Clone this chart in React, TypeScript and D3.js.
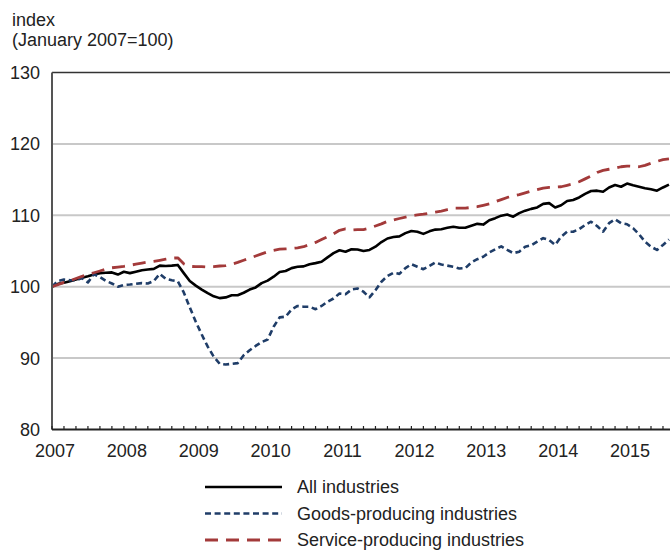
import React from 'react';
import * as d3 from 'd3';

// monthly index values, Jan 2007 .. Aug 2015 (January 2007 = 100)
const allIndustries = [
  100.0, 100.4, 100.55, 100.75, 101.0, 101.25, 101.45, 101.7, 101.9, 101.95, 102.0, 101.7,
  102.1, 101.9, 102.1, 102.3, 102.4, 102.5, 102.95, 102.9, 102.95, 103.05, 101.9, 100.8,
  100.15, 99.6, 99.1, 98.65, 98.4, 98.5, 98.8, 98.8, 99.15, 99.6, 99.9, 100.5,
  100.85, 101.4, 102.05, 102.2, 102.6, 102.8, 102.85, 103.15, 103.3, 103.5, 104.1, 104.7,
  105.1, 104.9, 105.25, 105.2, 105.0, 105.15, 105.6, 106.25, 106.75, 106.95, 107.05, 107.5,
  107.8, 107.7, 107.4, 107.75, 108.0, 108.05, 108.25, 108.4, 108.25, 108.25, 108.55, 108.8,
  108.7, 109.3, 109.6, 109.95, 110.1, 109.8, 110.3, 110.65, 110.9, 111.1, 111.6, 111.7,
  111.1, 111.4, 112.0, 112.15, 112.5, 113.0, 113.4, 113.45, 113.3, 113.9, 114.25, 114.0,
  114.45, 114.2, 114.0, 113.8, 113.65, 113.45, 113.9, 114.3,
];

const goodsProducing = [
  100.0, 100.8, 101.0, 100.9, 100.9, 101.2, 100.6, 101.75, 101.35, 100.8, 100.45, 100.0,
  100.25, 100.3, 100.4, 100.5, 100.45, 100.8, 101.8, 101.1, 100.9, 100.75, 99.2, 97.1,
  95.1, 93.3, 91.6, 90.2, 89.2, 89.1, 89.2, 89.3, 90.4, 91.1, 91.7, 92.25,
  92.6, 94.4, 95.7, 95.8, 96.8, 97.3, 97.2, 97.2, 96.85, 97.3, 97.9, 98.35,
  99.05, 98.95, 99.6, 99.75, 99.3, 98.5, 99.5, 100.7, 101.5, 101.95, 101.8, 102.6,
  103.15, 102.8, 102.45, 102.9, 103.4, 103.1, 102.95, 102.8, 102.55, 102.6, 103.4, 103.85,
  104.2, 104.8, 105.25, 105.65, 105.15, 104.7, 104.9, 105.6, 105.8, 106.3, 106.8, 106.55,
  105.85, 107.0, 107.7, 107.7, 108.05, 108.65, 109.1, 108.5, 107.7, 108.9, 109.45, 108.9,
  108.75, 108.2, 107.35, 106.3, 105.6, 105.15, 105.85, 106.6,
];

const serviceProducing = [
  100.0, 100.3, 100.6, 100.85, 101.15, 101.45, 101.7, 101.95, 102.2, 102.45, 102.65, 102.75,
  102.85, 103.0, 103.15, 103.3, 103.45, 103.55, 103.7, 103.85, 104.0, 104.05, 103.2, 102.85,
  102.8, 102.8, 102.75, 102.8, 102.9, 102.95, 103.15, 103.4, 103.7, 104.0, 104.3, 104.6,
  104.9, 105.1, 105.25, 105.3, 105.35, 105.45, 105.6, 105.9, 106.2, 106.6, 107.0, 107.4,
  107.9, 108.1, 107.95, 108.0, 108.0, 108.2, 108.5, 108.8, 109.15, 109.35, 109.55, 109.75,
  109.95, 110.05, 110.15, 110.3, 110.45, 110.6, 110.8, 111.0, 111.0, 111.0, 111.1, 111.2,
  111.4, 111.6, 111.9, 112.2, 112.5, 112.7, 112.9, 113.15, 113.4, 113.6, 113.8, 113.9,
  113.95, 114.0, 114.2, 114.4, 114.7, 115.1, 115.5, 116.0, 116.3, 116.45, 116.6, 116.8,
  116.9, 116.85, 116.8, 117.0, 117.3, 117.55, 117.8, 117.9,
];

const yearLabels = ['2007', '2008', '2009', '2010', '2011', '2012', '2013', '2014', '2015'];
const yTicks = [80, 90, 100, 110, 120, 130];
const gridValues = [90, 100, 110, 120];

const seriesNames = ['All industries', 'Goods-producing industries', 'Service-producing industries'];

const FONT = '"Liberation Sans", Arial, sans-serif';

const App = () => {
  const width = 670;
  const height = 553;
  const left = 52;
  const top = 72.5;
  const bottom = 429.5;

  const x = d3.scaleLinear().domain([0, 103]).range([left, left + 103 * 5.99]);
  const y = d3.scaleLinear().domain([80, 130]).range([bottom, top]);

  const line = d3.line<number>()
    .x((_, i) => x(i))
    .y(d => y(d));

  const series = [
    { name: seriesNames[0], values: allIndustries, color: '#000000', dash: undefined, w: 2.6 },
    { name: seriesNames[1], values: goodsProducing, color: '#1f3d68', dash: '6 3.6', w: 2.6 },
    { name: seriesNames[2], values: serviceProducing, color: '#a33a3a', dash: '13 8', w: 2.8 },
  ];

  const minorTicks = d3.range(0, 106, 2);

  return (
    <svg width={width} height={height} style={{ position: 'absolute', left: 0, top: 0 }} fontFamily={FONT}>
      <rect width={width} height={height} fill="#fff" />

      {/* title */}
      <text x={12} y={26} fontSize={18} fill="#222">index</text>
      <text x={12} y={46} fontSize={18} fill="#222">(January 2007=100)</text>

      {/* grid */}
      {gridValues.map(v => (
        <line key={v} x1={left} x2={width + 10} y1={y(v)} y2={y(v)} stroke="#c8c8c8" strokeWidth={2} />
      ))}

      {/* y tick labels */}
      {yTicks.map(v => (
        <text key={v} x={40} y={y(v)} dy="0.36em" textAnchor="end" fontSize={18} fill="#222">{v}</text>
      ))}

      {/* lines */}
      {series.map(s => (
        <path key={s.name} d={line(s.values) || ''} fill="none" stroke={s.color}
          strokeWidth={s.w} strokeDasharray={s.dash} strokeLinejoin="round" />
      ))}

      {/* frame */}
      <line x1={left} x2={width + 10} y1={top} y2={top} stroke="#333" strokeWidth={1.5} />
      <line x1={left} x2={left} y1={top} y2={bottom} stroke="#555" strokeWidth={2} />
      <line x1={left} x2={width + 10} y1={bottom} y2={bottom} stroke="#222" strokeWidth={2} />
      {minorTicks.map(m => (
        <line key={m} x1={x(m)} x2={x(m)} y1={bottom} y2={bottom - 3.5} stroke="#222" strokeWidth={1.2} />
      ))}

      {/* x labels */}
      {yearLabels.map((yr, i) => (
        <text key={yr} x={x(i * 12) + 3} y={457} textAnchor="middle" fontSize={18} fill="#222">{yr}</text>
      ))}

      {/* legend */}
      {series.map((s, i) => (
        <g key={s.name} transform={`translate(0, ${487 + i * 26.5})`}>
          <line x1={205} x2={282} y1={0} y2={0} stroke={s.color} strokeWidth={s.w} strokeDasharray={s.dash} />
          <text x={297} y={0} dy="0.36em" fontSize={18} fill="#222">{s.name}</text>
        </g>
      ))}
    </svg>
  );
};

export default App;
